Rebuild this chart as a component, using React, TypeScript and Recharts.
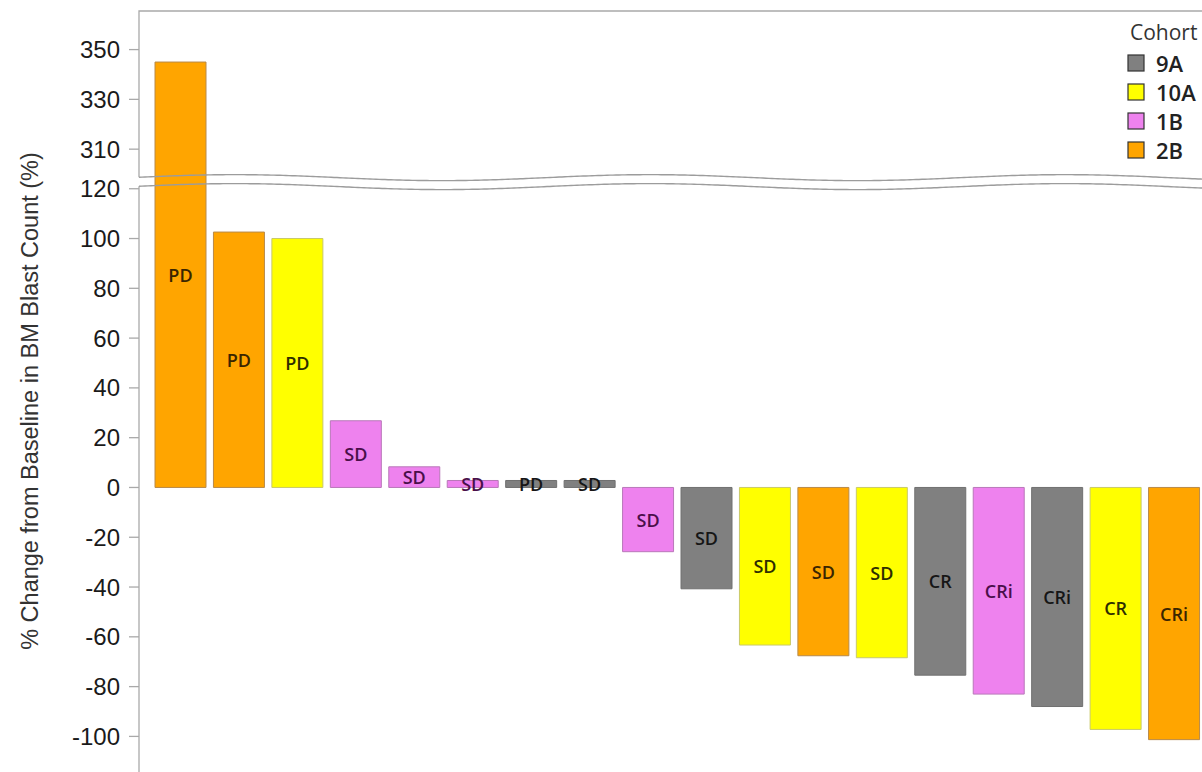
import React from 'react';
import {
  BarChart,
  Bar,
  XAxis,
  YAxis,
  Cell,
  LabelList,
  ReferenceArea,
  Legend,
  Label,
} from 'recharts';

// ---- data -------------------------------------------------------------
const patientIds = [
  'P01', 'P02', 'P03', 'P04', 'P05', 'P06', 'P07', 'P08', 'P09',
  'P10', 'P11', 'P12', 'P13', 'P14', 'P15', 'P16', 'P17', 'P18',
];
const patientCohorts = [
  '2B', '2B', '10A', '1B', '1B', '1B', '9A', '9A', '1B',
  '9A', '10A', '2B', '10A', '9A', '1B', '9A', '10A', '2B',
];
const blastChange = [
  345, 102.6, 100, 26.8, 8.3, 2.8, 2.8, 2.8, -25.8,
  -40.7, -63.3, -67.6, -68.4, -75.4, -83, -88, -97.2, -101.3,
];
const bestResponse = [
  'PD', 'PD', 'PD', 'SD', 'SD', 'SD', 'PD', 'SD', 'SD',
  'SD', 'SD', 'SD', 'SD', 'CR', 'CRi', 'CRi', 'CR', 'CRi',
];

const cohortOrder = ['9A', '10A', '1B', '2B'];
const lowerTicks = [-100, -80, -60, -40, -20, 0, 20, 40, 60, 80, 100, 120];
const upperTicks = [310, 330, 350];

// ---- styling ----------------------------------------------------------
const cohortFill: Record<string, string> = {
  '9A': '#808080',
  '10A': '#ffff00',
  '1B': '#ee82ee',
  '2B': '#ffa500',
};
const cohortEdge: Record<string, string> = {
  '9A': '#707070',
  '10A': '#c9c96a',
  '1B': '#b978b9',
  '2B': '#b88a4a',
};
const cohortText: Record<string, string> = {
  '9A': '#161616',
  '10A': '#2e2e00',
  '1B': '#4a0f4a',
  '2B': '#3a2500',
};

const FRAME = '#a9a9a9';
const WAVE = '#9c9c9c';
const X_PAD_LEFT = 12;

// ---- broken value axis ------------------------------------------------
// Values above the break are drawn shifted down so both panels share one scale.
const BREAK_SHIFT = 174.1;
const UPPER_PANEL_MIN = 298.7;
const LOWER_PANEL_MAX = 121;
const AXIS_DOMAIN: [number, number] = [-114.3, 191.4];

const toAxis = (v: number) => (v >= UPPER_PANEL_MIN ? v - BREAK_SHIFT : v);
const fromAxis = (d: number) => (d > LOWER_PANEL_MAX + 1 ? d + BREAK_SHIFT : d);

const axisTicks = [...lowerTicks, ...upperTicks.map(toAxis)];

const rows = patientIds.map((id, i) => ({
  id,
  cohort: patientCohorts[i],
  response: bestResponse[i],
  change: blastChange[i],
  plotted: toAxis(blastChange[i]),
}));

// wavy break line
const WAVE_PERIOD = 415;
const WAVE_PEAK_X = 235;
const WAVE_AMP = 3;
const waveOffset = (x: number) =>
  -WAVE_AMP * Math.cos((2 * Math.PI * (x - WAVE_PEAK_X)) / WAVE_PERIOD);

function wavePath(x0: number, x1: number, yStart: number) {
  let d = '';
  for (let x = x0; x <= x1; x += 3) {
    const y = yStart + waveOffset(x) - waveOffset(x0);
    d += (d ? ' L' : 'M') + x.toFixed(1) + ',' + y.toFixed(2);
  }
  return d;
}

// The reference areas span the padded category range; the frame starts at the axis.
const UpperPanelFrame = (props: any) => {
  const { x, y, width, height } = props;
  const left = x - X_PAD_LEFT;
  const bottom = y + height;
  const right = x + width + 20;
  return (
    <g>
      <path d={`M${left},${bottom} L${left},${y} L${right},${y}`} stroke={FRAME} strokeWidth={1.3} fill="none" />
      <path d={wavePath(left, right, bottom)} stroke={WAVE} strokeWidth={1.4} fill="none" />
    </g>
  );
};

const LowerPanelFrame = (props: any) => {
  const { x, y, width, height } = props;
  const left = x - X_PAD_LEFT;
  const right = x + width + 20;
  return (
    <g>
      <path d={`M${left},${y} L${left},${y + height + 20}`} stroke={FRAME} strokeWidth={1.3} fill="none" />
      <path d={wavePath(left, right, y)} stroke={WAVE} strokeWidth={1.4} fill="none" />
    </g>
  );
};

const ResponseLabel = (props: any) => {
  const { x, y, width, height, value, index } = props;
  const cohort = patientCohorts[index];
  return (
    <text
      x={x + width / 2}
      y={y + height / 2}
      textAnchor="middle"
      dominantBaseline="central"
      fontFamily="'Open Sans', sans-serif"
      fontWeight={600}
      fontSize={18}
      fill={cohortText[cohort]}
    >
      {value}
    </text>
  );
};

const AxisTitle = () => (
  <text
    transform="translate(30,401) rotate(-90)"
    textAnchor="middle"
    dominantBaseline="central"
    fontFamily="'Liberation Sans', Arial, sans-serif"
    fontSize={23.5}
    fill="#333"
  >
    % Change from Baseline in BM Blast Count (%)
  </text>
);

const legendRows = [63, 92, 121, 150];

const CohortLegend = () => (
  <svg width={100} height={170} style={{ display: 'block', overflow: 'visible' }}>
    <text x={12} y={40} fontFamily="'Open Sans', sans-serif" fontSize={21} fill="#333">
      Cohort
    </text>
    {cohortOrder.map((c, i) => (
      <g key={c}>
        <rect
          x={10}
          y={legendRows[i] - 8}
          width={16}
          height={16}
          fill={cohortFill[c]}
          stroke="#333"
          strokeWidth={1.2}
        />
        <text
          x={38}
          y={legendRows[i] + 8.5}
          fontFamily="'Open Sans', sans-serif"
          fontWeight={600}
          fontSize={22}
          fill="#222"
        >
          {c}
        </text>
      </g>
    ))}
  </svg>
);

export default function App() {
  return (
    <div
      style={{
        position: 'absolute',
        left: 0,
        top: 0,
        width: 1202,
        height: 772,
        overflow: 'hidden',
        background: '#fff',
      }}
    >
      <BarChart
        width={1210}
        height={780}
        data={rows}
        margin={{ top: 11, right: 7, bottom: 8, left: 0 }}
        barSize={51}
      >
        <XAxis dataKey="id" hide padding={{ left: X_PAD_LEFT, right: 0 }} />
        <YAxis
          type="number"
          domain={AXIS_DOMAIN}
          allowDataOverflow
          ticks={axisTicks}
          interval={0}
          width={139}
          axisLine={false}
          tickLine={{ stroke: FRAME, strokeWidth: 1.3 }}
          tickSize={10}
          tickMargin={9}
          tick={{ fontSize: 24, fill: '#1a1a1a', fontFamily: "'Liberation Sans', Arial, sans-serif" }}
          tickFormatter={(d: number) => String(Math.round(fromAxis(d)))}
        >
          <Label content={<AxisTitle />} />
        </YAxis>
        <Bar dataKey="plotted" isAnimationActive={false}>
          {rows.map((r) => (
            <Cell key={r.id} fill={cohortFill[r.cohort]} stroke={cohortEdge[r.cohort]} strokeWidth={1} />
          ))}
          <LabelList dataKey="response" content={<ResponseLabel />} />
        </Bar>
        <ReferenceArea
          y1={toAxis(UPPER_PANEL_MIN)}
          y2={AXIS_DOMAIN[1]}
          ifOverflow="visible"
          shape={<UpperPanelFrame />}
          zIndex={1000}
        />
        <ReferenceArea
          y1={AXIS_DOMAIN[0]}
          y2={LOWER_PANEL_MAX}
          ifOverflow="visible"
          shape={<LowerPanelFrame />}
          zIndex={1000}
        />
        <Legend
          layout="vertical"
          align="center"
          verticalAlign="middle"
          content={<CohortLegend />}
          wrapperStyle={{ position: 'absolute', left: 1118, top: 0, width: 100, height: 170 }}
        />
      </BarChart>
    </div>
  );
}
